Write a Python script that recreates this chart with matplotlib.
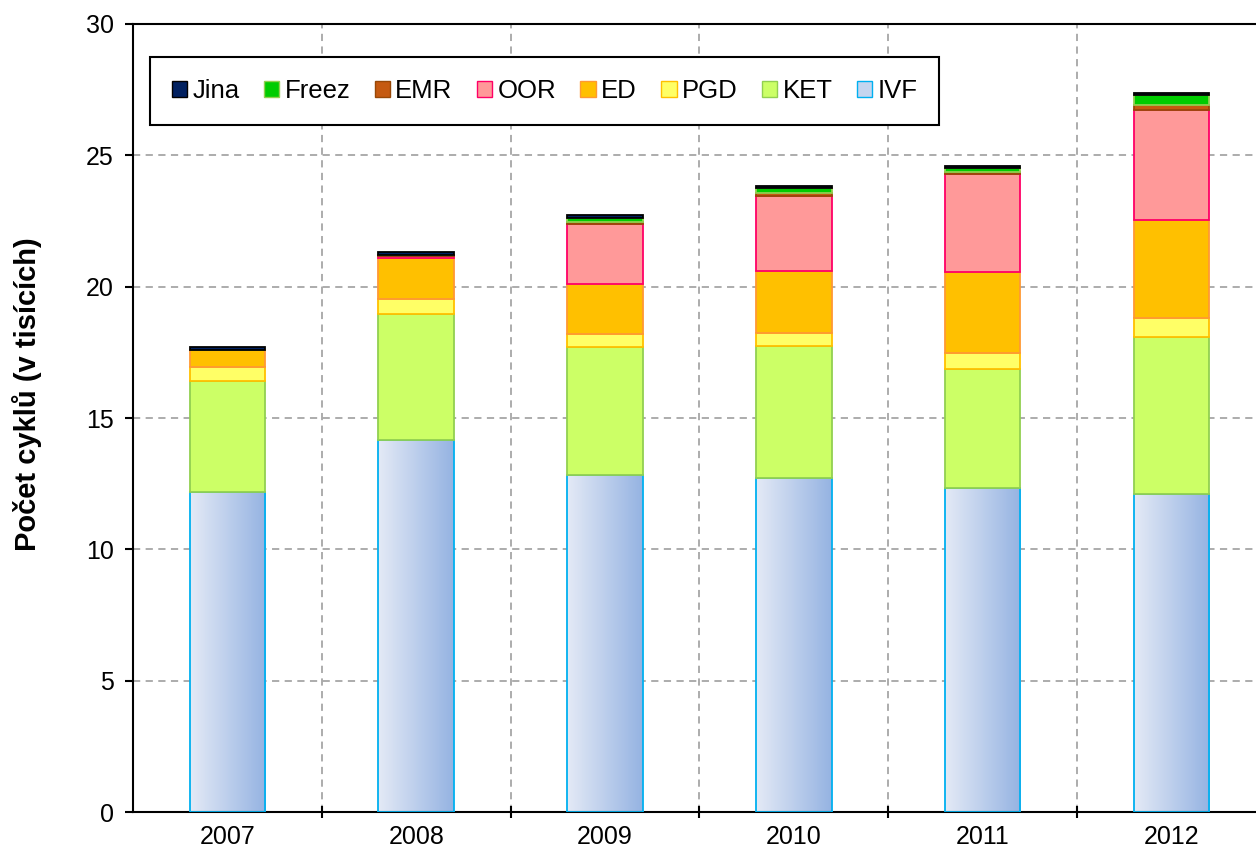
import numpy as np
import matplotlib.pyplot as plt
from matplotlib.colors import LinearSegmentedColormap
from matplotlib.patches import Patch

plt.rcParams['font.family'] = ['Liberation Sans', 'DejaVu Sans']

years = ["2007", "2008", "2009", "2010", "2011", "2012"]
ivf = [12.18, 14.16, 12.83, 12.71, 12.33, 12.10]
ket = [4.23, 4.80, 4.88, 5.03, 4.53, 5.98]
pgd = [0.53, 0.57, 0.49, 0.48, 0.61, 0.72]
ed = [0.65, 1.56, 1.89, 2.37, 3.09, 3.74]
oor = [0.0, 0.08, 2.29, 2.86, 3.73, 4.18]
emr = [0.0, 0.02, 0.08, 0.11, 0.08, 0.19]
freez = [0.0, 0.02, 0.15, 0.19, 0.15, 0.38]
jina = [0.1, 0.1, 0.1, 0.08, 0.08, 0.08]

# name, values, face, edge
series = [
    ("KET", ket, "#ccff66", "#92d050"),
    ("PGD", pgd, "#ffff66", "#ffc000"),
    ("ED", ed, "#ffc000", "#ff9933"),
    ("OOR", oor, "#ff9999", "#ff0066"),
    ("EMR", emr, "#c55a11", "#984807"),
    ("Freez", freez, "#00cc00", "#92d050"),
    ("Jina", jina, "#002060", "#000000"),
]

fig = plt.figure(figsize=(12.56, 8.57), dpi=100)
ax = fig.add_axes([0.1059, 0.0525, 0.902, 0.9195])

x = np.arange(len(years))
width = 0.40

# IVF with horizontal gradient
cmap = LinearSegmentedColormap.from_list("ivf", ["#e4eaf6", "#95b3e2"])
grad = np.linspace(0, 1, 256).reshape(1, -1)
for xi, h in zip(x, ivf):
    ax.imshow(grad, cmap=cmap, extent=(xi - width / 2, xi + width / 2, 0, h),
              aspect="auto", zorder=2)
ax.bar(x, ivf, width, facecolor="none", edgecolor="#00b0f0", linewidth=1.3, zorder=3)

bottom = np.array(ivf, dtype=float)
for name, vals, fc, ec in series:
    ax.bar(x, vals, width, bottom=bottom, color=fc, edgecolor=ec, linewidth=1.3, zorder=3)
    bottom += np.array(vals)

ax.set_xlim(-0.5, len(years) - 0.5)
ax.set_ylim(0, 30)
ax.set_yticks(np.arange(0, 31, 5))
ax.set_xticks(x)
ax.set_xticklabels(years)
ax.set_xticks(np.arange(0.5, len(years) - 0.5, 1), minor=True)
ax.tick_params(axis="x", which="major", length=0, labelsize=18, pad=9)
ax.tick_params(axis="x", which="minor", length=8, width=1.5, direction="inout")
ax.tick_params(axis="y", length=6, width=1.5, labelsize=18, direction="out", pad=8)

ax.grid(axis="y", color="#a6a6a6", linestyle=(0, (4, 3)), linewidth=1.3, zorder=0)
ax.grid(axis="x", which="minor", color="#a6a6a6", linestyle=(0, (4, 3)), linewidth=1.3, zorder=0)
ax.set_axisbelow(True)

for s in ax.spines.values():
    s.set_linewidth(1.5)
ax.spines["right"].set_visible(False)

ax.set_ylabel("Počet cyklů (v tisících)", fontsize=21, fontweight="bold")
ax.yaxis.set_label_coords(-0.08, 0.53)

handles = [Patch(facecolor=fc, edgecolor=ec) for name, vals, fc, ec in series[::-1]]
labels = [name for name, vals, fc, ec in series[::-1]]
handles.append(Patch(facecolor="#c5d5ef", edgecolor="#00b0f0"))
labels.append("IVF")
leg = ax.legend(handles, labels, ncol=8, loc="upper left", bbox_to_anchor=(0.015, 0.958),
                borderaxespad=0, fontsize=18.5, handlelength=0.6, handleheight=0.6,
                handletextpad=0.2, columnspacing=0.95, borderpad=0.85,
                fancybox=False, edgecolor="black", framealpha=1)
leg.get_frame().set_linewidth(1.5)

fig.savefig("out.png", dpi=100)
